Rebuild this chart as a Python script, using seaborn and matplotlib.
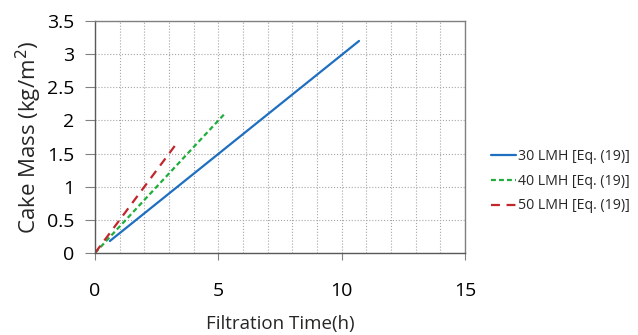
import numpy as np
import pandas as pd
import matplotlib.pyplot as plt
import seaborn as sns

# values
series = ['30 LMH [Eq. (19)]', '40 LMH [Eq. (19)]', '50 LMH [Eq. (19)]']
time_30 = [0.6, 10.7]
mass_30 = [0.18, 3.2]
time_40 = [0.0, 5.3]
mass_40 = [0.0, 2.12]
time_50 = [0.0, 3.3]
mass_50 = [0.0, 1.65]

df = pd.concat([
    pd.DataFrame({'time': time_30, 'mass': mass_30, 'series': series[0]}),
    pd.DataFrame({'time': time_40, 'mass': mass_40, 'series': series[1]}),
    pd.DataFrame({'time': time_50, 'mass': mass_50, 'series': series[2]}),
])

sns.set_theme(style='white')
plt.rcParams['font.family'] = ['Open Sans', 'DejaVu Sans']

f, ax = plt.subplots(figsize=(6.38, 3.35), dpi=100)
f.subplots_adjust(left=0.149, right=0.729, top=0.937, bottom=0.245)

palette = {series[0]: '#1f6fc0', series[1]: '#1fae3c', series[2]: '#c0262b'}
dashes = {series[0]: '', series[1]: (2.2, 1.4), series[2]: (4, 3)}
sns.lineplot(data=df, x='time', y='mass', hue='series', style='series',
             palette=palette, dashes=dashes, linewidth=1.6, ax=ax, sort=False)

ax.set_xlim(0, 15)
ax.set_ylim(0, 3.5)
ax.set_xticks([0, 5, 10, 15])
ax.set_xticks(np.arange(0, 16, 1), minor=True)
ax.set_yticks(np.arange(0, 3.51, 0.5))
ax.set_yticklabels(['0', '0.5', '1', '1.5', '2', '2.5', '3', '3.5'])
ax.grid(True, which='both', axis='x', linestyle=':', color='#a6a6a6', linewidth=0.8)
ax.grid(True, which='major', axis='y', linestyle=':', color='#a6a6a6', linewidth=0.8)
ax.set_axisbelow(True)

for s in ax.spines.values():
    s.set_color('#808080')
    s.set_linewidth(1.0)
ax.spines['left'].set_color('#595959')
ax.spines['bottom'].set_color('#595959')

ax.tick_params(axis='x', which='major', direction='out', length=5, width=0.8,
               color='#808080', pad=16, labelsize=14, labelcolor='#000000')
ax.tick_params(axis='x', which='minor', length=0)
ax.tick_params(axis='y', direction='out', length=7, width=0.8,
               color='#808080', pad=8, labelsize=14, labelcolor='#000000')
ax.tick_params(bottom=True, left=True)

ax.set_xlabel('Filtration Time(h)', fontsize=13.5, labelpad=11)
ax.set_ylabel('Cake Mass (kg/m$^2$)', fontsize=16, labelpad=2)

leg = ax.legend(loc='center left', bbox_to_anchor=(1.035, 0.31), frameon=False,
                fontsize=10.2, handlelength=1.8, handletextpad=0.15, labelspacing=0.7)

f.savefig('out.png', dpi=100)
